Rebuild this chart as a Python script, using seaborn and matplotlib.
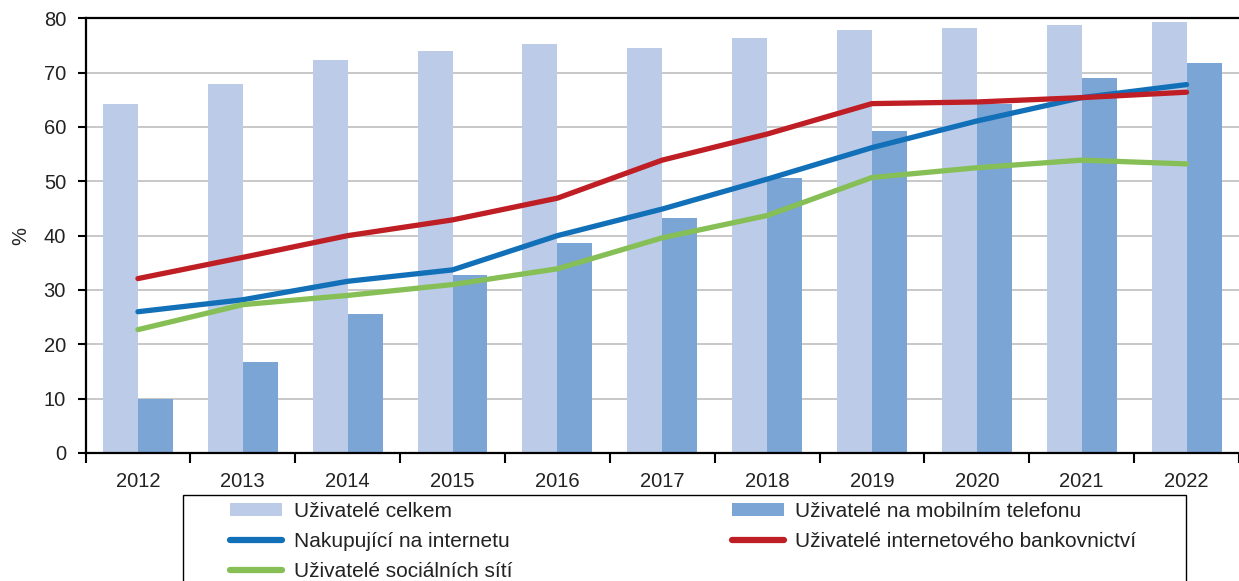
import numpy as np
import pandas as pd
import matplotlib
matplotlib.use("Agg")
import matplotlib.pyplot as plt
from matplotlib.patches import Rectangle
import seaborn as sns

years = ["2012", "2013", "2014", "2015", "2016", "2017", "2018", "2019", "2020", "2021", "2022"]
uzivatele_celkem = [64.3, 67.9, 72.3, 73.9, 75.3, 74.5, 76.3, 77.8, 78.3, 78.8, 79.3]
uzivatele_mobil = [10.0, 16.8, 25.6, 32.8, 38.6, 43.2, 50.6, 59.2, 64.3, 69.1, 71.8]
nakupujici = [26.0, 28.2, 31.6, 33.7, 40.0, 44.9, 50.4, 56.2, 61.1, 65.4, 67.8]
bankovnictvi = [32.1, 36.0, 40.0, 42.9, 46.9, 53.9, 58.7, 64.3, 64.6, 65.4, 66.4]
socialni_site = [22.7, 27.3, 29.0, 31.0, 33.9, 39.6, 43.7, 50.7, 52.5, 53.9, 53.2]

bar_names = ["Uživatelé celkem", "Uživatelé na mobilním telefonu"]
line_names = ["Nakupující na internetu", "Uživatelé internetového bankovnictví", "Uživatelé sociálních sítí"]
bar_colors = ["#BBCBE8", "#7BA5D5"]
line_colors = ["#1170B8", "#BE1E24", "#86BF55"]
y_ticks = [0, 10, 20, 30, 40, 50, 60, 70, 80]

sns.set_theme(style="white")
plt.rcParams["font.family"] = ["Liberation Sans", "DejaVu Sans"]
plt.rcParams["text.color"] = "#222222"
plt.rcParams["xtick.color"] = "#000000"
plt.rcParams["ytick.color"] = "#000000"
plt.rcParams["xtick.labelcolor"] = "#222222"
plt.rcParams["ytick.labelcolor"] = "#222222"

W, H = 1239, 581
fig = plt.figure(figsize=(W / 100, H / 100), dpi=100)
ax = fig.add_axes([85.5 / W, 1 - 453 / H, 1 - 85.5 / W, (453 - 18.3) / H])

bars_df = pd.DataFrame({
    "year": years * 2,
    "value": uzivatele_celkem + uzivatele_mobil,
    "series": [bar_names[0]] * len(years) + [bar_names[1]] * len(years),
})
sns.barplot(data=bars_df, x="year", y="value", hue="series", order=years,
            hue_order=bar_names, palette=bar_colors, width=0.667, linewidth=0,
            saturation=1, ax=ax, zorder=2)

pos = np.arange(len(years))
lines_df = pd.DataFrame({
    "pos": np.tile(pos, 3),
    "value": nakupujici + bankovnictvi + socialni_site,
    "series": [line_names[0]] * len(years) + [line_names[1]] * len(years) + [line_names[2]] * len(years),
})
sns.lineplot(data=lines_df, x="pos", y="value", hue="series", hue_order=line_names,
             palette=line_colors, linewidth=3.8, ax=ax, zorder=3,
             solid_capstyle="round")

handles, labels = ax.get_legend_handles_labels()
hmap = dict(zip(labels, handles))
if ax.get_legend() is not None:
    ax.get_legend().remove()

ax.set_xlim(-0.5, len(years) - 0.5)
ax.set_ylim(0, 80)
ax.set_yticks(y_ticks)
ax.set_xticks(pos)
ax.set_xticklabels(years)
ax.set_xticks(np.arange(len(years) + 1) - 0.5, minor=True)
ax.tick_params(axis="x", which="major", length=0, pad=14, labelsize=14.5)
ax.tick_params(axis="x", which="minor", length=7, width=1.5, direction="out", bottom=True)
ax.tick_params(axis="y", which="major", length=6, width=1.5, direction="out", pad=8, labelsize=14.5, left=True)
ax.set_xlabel("")
ax.set_ylabel("%", fontsize=14.5, labelpad=10)
ax.yaxis.grid(True, color="#C4C4C4", linewidth=1.3)
ax.xaxis.grid(False)
ax.set_axisbelow(True)
for s in ["left", "bottom", "top"]:
    ax.spines[s].set_visible(True)
    ax.spines[s].set_color("#000000")
    ax.spines[s].set_linewidth(1.6)
ax.spines["right"].set_visible(False)

order = [bar_names[0], line_names[0], line_names[2], bar_names[1], line_names[1]]
leg = fig.legend([hmap[n] for n in order], order, ncol=2, loc="upper left",
                 bbox_to_anchor=(230 / W, 1 - 502 / H), frameon=False,
                 fontsize=15, handlelength=2.5, handleheight=0.55, handletextpad=0.55,
                 labelspacing=0.52, columnspacing=10.55, borderpad=0, borderaxespad=0)
for lh in leg.get_lines():
    lh.set_linewidth(4.5)
    lh.set_solid_capstyle("round")

fig.patches.append(Rectangle((183 / W, -0.05), (1186 - 183) / W, 0.05 + (581 - 495) / H,
                             transform=fig.transFigure, fill=False, edgecolor="#000000",
                             linewidth=1.0, zorder=0))

fig.savefig("out.png", dpi=100)
